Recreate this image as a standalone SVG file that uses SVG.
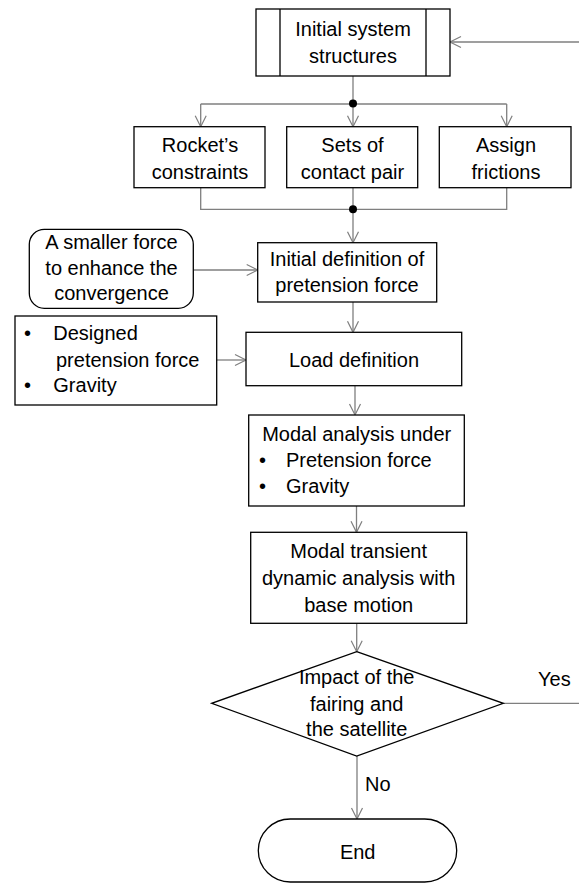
<svg xmlns="http://www.w3.org/2000/svg" width="579" height="884" viewBox="0 0 579 884">
<defs>
<marker id="arr" markerUnits="userSpaceOnUse" markerWidth="14" markerHeight="14" viewBox="-12 -7 14 14" refX="0" refY="0" orient="auto">
<path d="M-11,-5.5 L0,0 L-11,5.5" fill="none" stroke="#7f7f7f" stroke-width="1.2"/>
</marker>
<style>
.box{fill:#fff;stroke:#000;stroke-width:1.3}
.con{fill:none;stroke:#7f7f7f;stroke-width:1.3}
text{font-family:"Liberation Sans",Arial,sans-serif;font-size:20px;fill:#000}
.c{text-anchor:middle}
</style>
</defs>
<rect width="579" height="884" fill="#fff"/>
<g id="connectors">
<path class="con" d="M579,42 H450" marker-end="url(#arr)"/>
<path class="con" d="M353,76 V104"/>
<path class="con" d="M200.7,104 H506.7"/>
<path class="con" d="M200.7,104 V126.7" marker-end="url(#arr)"/>
<path class="con" d="M353,104 V126.7" marker-end="url(#arr)"/>
<path class="con" d="M506.7,104 V126.7" marker-end="url(#arr)"/>
<path class="con" d="M200.7,187.7 V209.3 H506.7 V187.7"/>
<path class="con" d="M353,187.7 V209.3"/>
<path class="con" d="M353,209.3 V242.7" marker-end="url(#arr)"/>
<path class="con" d="M193.3,270 H257.7" marker-end="url(#arr)"/>
<path class="con" d="M353,302 V332.3" marker-end="url(#arr)"/>
<path class="con" d="M216.7,360 H246" marker-end="url(#arr)"/>
<path class="con" d="M355,385.7 V415" marker-end="url(#arr)"/>
<path class="con" d="M356.5,506 V532.3" marker-end="url(#arr)"/>
<path class="con" d="M356.7,623.3 V651.7" marker-end="url(#arr)"/>
<path class="con" d="M503.3,703.3 H579"/>
<path class="con" d="M357,756 V819" marker-end="url(#arr)"/>
<circle cx="353" cy="103.5" r="4" fill="#000"/>
<circle cx="353" cy="209.3" r="4" fill="#000"/>
<text x="538" y="686">Yes</text>
<text x="365" y="791">No</text>
</g>
<g id="initial">
<rect class="box" x="256" y="9" width="194" height="67"/>
<path class="box" d="M280,9 V76 M426,9 V76"/>
<text class="c" x="353" y="36">Initial system</text>
<text class="c" x="353" y="63">structures</text>
</g>
<g id="rocket">
<rect class="box" x="134" y="126.7" width="131" height="61"/>
<text class="c" x="200" y="152">Rocket’s</text>
<text class="c" x="200" y="179">constraints</text>
</g>
<g id="sets">
<rect class="box" x="286.7" y="126.7" width="131" height="61"/>
<text class="c" x="352.5" y="152">Sets of</text>
<text class="c" x="352.5" y="179">contact pair</text>
</g>
<g id="assign">
<rect class="box" x="439.3" y="126.7" width="131.7" height="61"/>
<text class="c" x="506" y="152">Assign</text>
<text class="c" x="506" y="179">frictions</text>
</g>
<g id="smaller">
<rect class="box" x="29.3" y="229.3" width="164" height="79" rx="15"/>
<text class="c" x="111.5" y="249">A smaller force</text>
<text class="c" x="111.5" y="274.5">to enhance the</text>
<text class="c" x="111.5" y="300">convergence</text>
</g>
<g id="initdef">
<rect class="box" x="257.7" y="242.7" width="179" height="59.3"/>
<text class="c" x="347" y="266">Initial definition of</text>
<text class="c" x="347" y="292">pretension force</text>
</g>
<g id="designed">
<rect class="box" x="15" y="316" width="201.7" height="89"/>
<text x="24" y="340">•</text>
<text x="53.3" y="340">Designed</text>
<text x="56" y="366.7">pretension force</text>
<text x="24" y="392">•</text>
<text x="53.3" y="392">Gravity</text>
</g>
<g id="load">
<rect class="box" x="246" y="332.3" width="215.7" height="53.4"/>
<text class="c" x="354" y="367.3">Load definition</text>
</g>
<g id="modal">
<rect class="box" x="248.7" y="415" width="215.6" height="91"/>
<text class="c" x="356.7" y="440.7">Modal analysis under</text>
<text x="259" y="467.3">•</text>
<text x="286" y="467.3">Pretension force</text>
<text x="259" y="493.3">•</text>
<text x="286" y="493.3">Gravity</text>
</g>
<g id="transient">
<rect class="box" x="250.7" y="532.3" width="216" height="91"/>
<text class="c" x="358.7" y="558.3">Modal transient</text>
<text class="c" x="358.7" y="585">dynamic analysis with</text>
<text class="c" x="358.7" y="611.7">base motion</text>
</g>
<g id="impact">
<path class="box" d="M356.7,651.7 L503.3,703.3 L356.7,756 L211.7,703.3 Z"/>
<text class="c" x="356.7" y="684">Impact of the</text>
<text class="c" x="356.7" y="710.5">fairing and</text>
<text class="c" x="356.7" y="736">the satellite</text>
</g>
<g id="end">
<rect class="box" x="258.3" y="819" width="198.4" height="63" rx="32"/>
<text class="c" x="357.7" y="859.3">End</text>
</g>
</svg>
